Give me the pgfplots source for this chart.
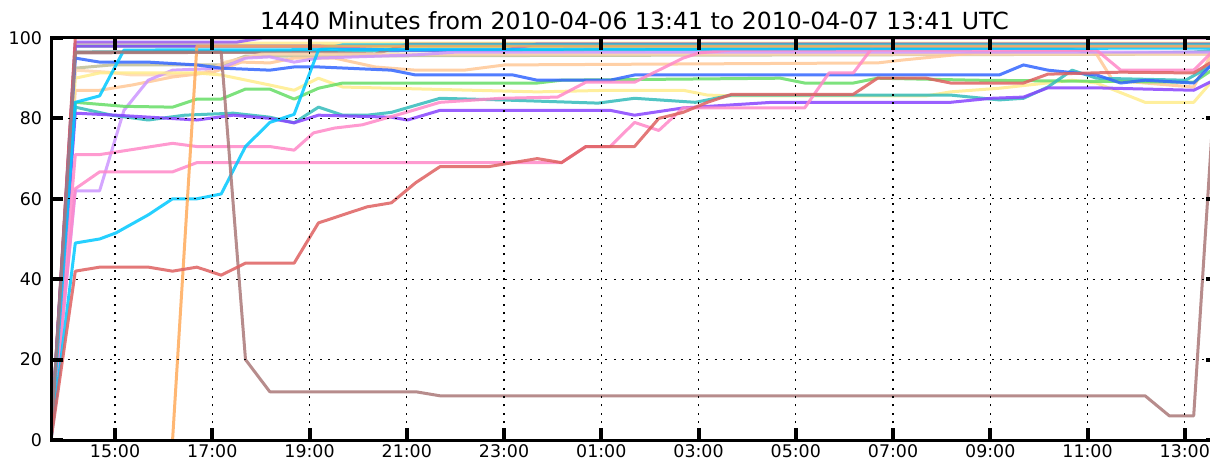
\documentclass[border=0pt]{standalone}
\usepackage{fontspec}
\setmainfont{DejaVu Sans}
\usepackage{pgfplots}
\pgfplotsset{compat=1.18}

\definecolor{cred}{RGB}{222,96,96}
\definecolor{cblue}{RGB}{51,102,255}
\definecolor{ccyan}{RGB}{0,200,255}
\definecolor{cgreen}{RGB}{102,221,102}
\definecolor{cyellow}{RGB}{255,236,140}
\definecolor{cteal}{RGB}{51,187,187}
\definecolor{cviolet}{RGB}{136,68,255}
\definecolor{cviolet2}{RGB}{150,90,250}
\definecolor{clav}{RGB}{204,150,255}
\definecolor{cpink}{RGB}{255,136,200}
\definecolor{corange}{RGB}{255,170,90}
\definecolor{cpeach}{RGB}{255,200,150}
\definecolor{cpeach2}{RGB}{255,215,175}
\definecolor{cbrown}{RGB}{170,120,120}
\definecolor{cgreygreen}{RGB}{190,190,150}

\begin{document}
\begin{tikzpicture}
\begin{axis}[
  at={(0,0)}, anchor=south west,
  scale only axis, width=583.5pt, height=201pt,
  xmin=0, xmax=1440, ymin=0, ymax=100,
  xtick={79,199,...,1399},
  xticklabels={15:00,17:00,19:00,21:00,23:00,01:00,03:00,05:00,07:00,09:00,11:00,13:00},
  ytick={0,20,...,100},
  tick align=inside, major tick length=6pt,
  tick style={black, line width=2pt},
  grid=major, grid style={black, line width=0.6pt, dash pattern=on 1pt off 3.2pt},
  axis line style={line width=1.5pt},
  axis on top,
  tick label style={font=\fontsize{8.7}{10}\selectfont},
  xticklabel style={yshift=1pt},
  yticklabel style={xshift=-1pt},
  /pgf/number format/assume math mode=true,
  title={1440 Minutes from 2010-04-06 13:41 to 2010-04-07 13:41 UTC},
  title style={font=\fontsize{11.8}{14}\selectfont, anchor=base, yshift=-2pt},
  no markers,
  every axis plot/.append style={line width=1.5pt, line join=round, opacity=0.85},
]
% top band
\addplot[cyellow] coordinates {(0,0)(30,98.7)(1440,98.7)};
\addplot[cgreen] coordinates {(0,0)(30,98)(1440,98)};
\addplot[cteal] coordinates {(0,0)(30,96.5)(1250,97.5)(1290,96)(1410,96.5)(1440,97)};
\addplot[cviolet2] coordinates {(0,0)(30,99)(230,99)(260,100)(1440,100)};
\addplot[cviolet] coordinates {(0,0)(30,98)(330,98)(360,97.5)(420,97)(560,97)(600,98.5)(1440,98.5)};
\addplot[cbrown] coordinates {(0,0)(30,96.3)(330,96.5)(400,96)(440,98.5)(1440,98.5)};
\addplot[cgreygreen] coordinates {(0,0)(30,92.5)(75,93.3)(210,93.3)(240,95.5)(1440,96)};
\addplot[cpeach2] coordinates {(0,0)(30,92)(70,91.5)(100,90.8)(150,90.8)(190,91.5)(215,94)(260,96)(1440,96)};
\addplot[cred] coordinates {(0,0)(30,100)(1440,100)};
% middle band
\addplot[cpeach] coordinates {(0,0)(30,87)(60,87)(100,88.3)(150,90.3)(200,91.5)(235,94)(270,93.8)(300,95)(350,95)(400,92.8)(450,92)(510,92)(560,93.3)(1020,93.8)(1050,94.5)(1140,96.3)(1280,97)(1290,96)(1310,89.5)(1350,88.8)(1410,87.8)(1440,99)};
\addplot[clav] coordinates {(0,0)(30,62)(60,62)(90,82)(120,89.5)(150,92)(210,92.5)(240,95)(270,95.3)(300,94)(330,95)(450,95.8)(500,96.5)(1440,96.5)};
\addplot[cyellow] coordinates {(0,0)(30,90)(60,91.3)(180,91.3)(210,90.8)(270,88.3)(300,87)(330,90)(360,87.8)(420,87.5)(600,86.6)(690,87)(780,87)(810,85.8)(840,85.6)(1080,85.6)(1110,86.6)(1170,87.5)(1260,89.5)(1290,88.8)(1350,84)(1410,84)(1440,91)};
\addplot[cgreen] coordinates {(0,0)(30,84)(90,83)(150,82.8)(180,84.8)(210,84.8)(240,87.3)(270,87.3)(300,84.8)(330,87.5)(360,88.8)(600,88.8)(630,89.5)(900,90)(930,88.8)(990,88.8)(1020,90)(1140,89.5)(1410,89)(1440,93)};
\addplot[cteal] coordinates {(0,0)(30,82.8)(75,80.8)(120,79.6)(165,80.8)(225,81.3)(270,80.3)(300,78.9)(330,82.8)(360,80.8)(390,80.8)(420,81.5)(480,85)(555,84.6)(675,83.8)(720,85)(795,84)(840,85.8)(1110,85.8)(1170,84.6)(1200,85)(1230,87.8)(1260,92)(1290,90)(1400,89.5)(1440,94)};
\addplot[cviolet] coordinates {(0,0)(30,81.3)(80,80.8)(180,79.6)(225,80.8)(270,80)(300,78.9)(330,80.8)(420,80.3)(440,79.6)(480,82)(690,82)(720,80.8)(780,82.6)(890,84)(1110,84)(1160,85)(1200,85.3)(1230,87.6)(1290,87.6)(1410,87)(1440,90)};
\addplot[cblue] coordinates {(0,0)(30,95)(60,94)(120,94)(180,93.3)(210,92.5)(270,92)(300,92.8)(330,92.8)(420,92)(450,90.8)(570,90.8)(600,89.5)(690,89.5)(720,90.8)(1170,90.8)(1200,93.3)(1230,92)(1290,90.8)(1320,88.8)(1350,89.5)(1410,88.8)(1440,95)};
% pinks
\addplot[cpink] coordinates {(0,0)(30,71)(60,71)(150,73.8)(180,73)(270,73)(300,72.1)(324,76.4)(350,77.6)(384,78.4)(440,81.6)(480,84)(555,85)(625,85.3)(660,89)(720,89)(780,95)(800,96.3)(840,97)(1290,97)(1320,92)(1410,92)(1440,98)};
\addplot[cpink] coordinates {(0,0)(30,62.5)(60,66.7)(150,66.7)(180,69)(630,69)(660,73)(690,73)(720,79)(750,77)(780,82.6)(930,82.6)(960,91.3)(990,91.3)(1015,98)(1440,98)};
% cyans
\addplot[ccyan] coordinates {(0,0)(30,84)(60,85.6)(90,97)(1440,97.5)};
\addplot[ccyan] coordinates {(0,0)(30,49)(60,50)(80,51.5)(120,56)(150,60)(180,60)(210,61.2)(240,73)(270,79)(300,81)(330,97)(360,98.3)(1440,98.3)};
% orange and brown
\addplot[corange] coordinates {(150,0)(180,98)(1440,98)};
\addplot[cbrown] coordinates {(0,0)(30,96.5)(210,96.5)(240,20)(270,12)(450,12)(480,11)(1350,11)(1380,6)(1410,6)(1440,100)};
% lower red
\addplot[cred] coordinates {(0,0)(30,42)(60,43)(120,43)(150,42)(180,43)(210,41)(240,44)(300,44)(330,54)(390,58)(420,59)(450,64)(480,68)(540,68)(600,70)(630,69)(660,73)(720,73)(750,80)(780,81.5)(810,84)(840,86)(990,86)(1020,90)(1080,90)(1110,88.8)(1200,88.8)(1230,91)(1320,91.5)(1410,91.3)(1440,95)};
\end{axis}
\pgfresetboundingbox
\path[use as bounding box] (-25.5pt,-10.5pt) rectangle (579.5pt,220pt);
\end{tikzpicture}
\end{document}
